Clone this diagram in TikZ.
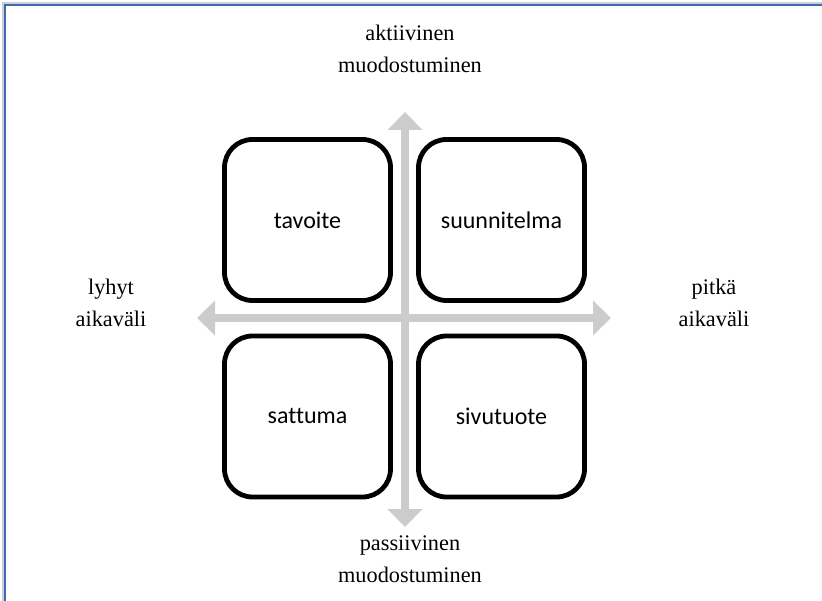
\documentclass[tikz,border=0pt]{standalone}
\usepackage{fontspec}
\setmainfont{Liberation Serif}
\newfontfamily\boxfont[Ligatures=NoCommon]{Carlito}
\usetikzlibrary{arrows.meta}
\definecolor{frameblue}{RGB}{66,106,170}
\definecolor{frameshade}{RGB}{200,208,222}
\definecolor{axisgray}{RGB}{204,204,204}
\begin{document}
\begin{tikzpicture}[x=1pt,y=-1pt,
  quad/.style={draw=black, line width=4.8pt, rounded corners=28pt,
    minimum width=166pt, minimum height=161pt, inner sep=0pt,
    font=\boxfont\fontsize{24}{29}\selectfont},
  axis/.style={draw=axisgray, line width=8pt,
    {Triangle[width=34pt,length=18pt]}-{Triangle[width=34pt,length=18pt]}},
  pole/.style={align=center, inner sep=0pt, font=\fontsize{22.3}{32}\selectfont}]
\useasboundingbox (0,0) rectangle (822,601);

% page frame (top and left edges)
\draw[frameshade, line width=1.2pt] (822,3) -- (3,3) -- (3,601);
\draw[frameblue, line width=1.8pt] (822,4.7) -- (4.7,4.7) -- (4.7,601);

% axes
\coordinate (west) at (197,318);
\coordinate (east) at (611,318);
\coordinate (north) at (405,112);
\coordinate (south) at (405,527);
\draw[axis] (west) -- (east);
\draw[axis] (south) -- (north);

% quadrants
\node[quad] (tavoite) at (307.5,220) {tavoite};
\node[quad] (suunnitelma) at (501.5,220) {suunnitelma};
\node[quad] (sattuma) at (307.5,416.5) {sattuma};
\node[quad] (sivutuote) at (501.5,416.5) {sivutuote};

% axis labels
\node[pole] (aktiivinen) at (410,49) {aktiivinen\\muodostuminen};
\node[pole] (passiivinen) at (410,559) {passiivinen\\muodostuminen};
\node[pole] (lyhyt) at (111,303) {lyhyt\\aikaväli};
\node[pole] (pitka) at (714,303) {pitkä\\aikaväli};
\end{tikzpicture}
\end{document}
